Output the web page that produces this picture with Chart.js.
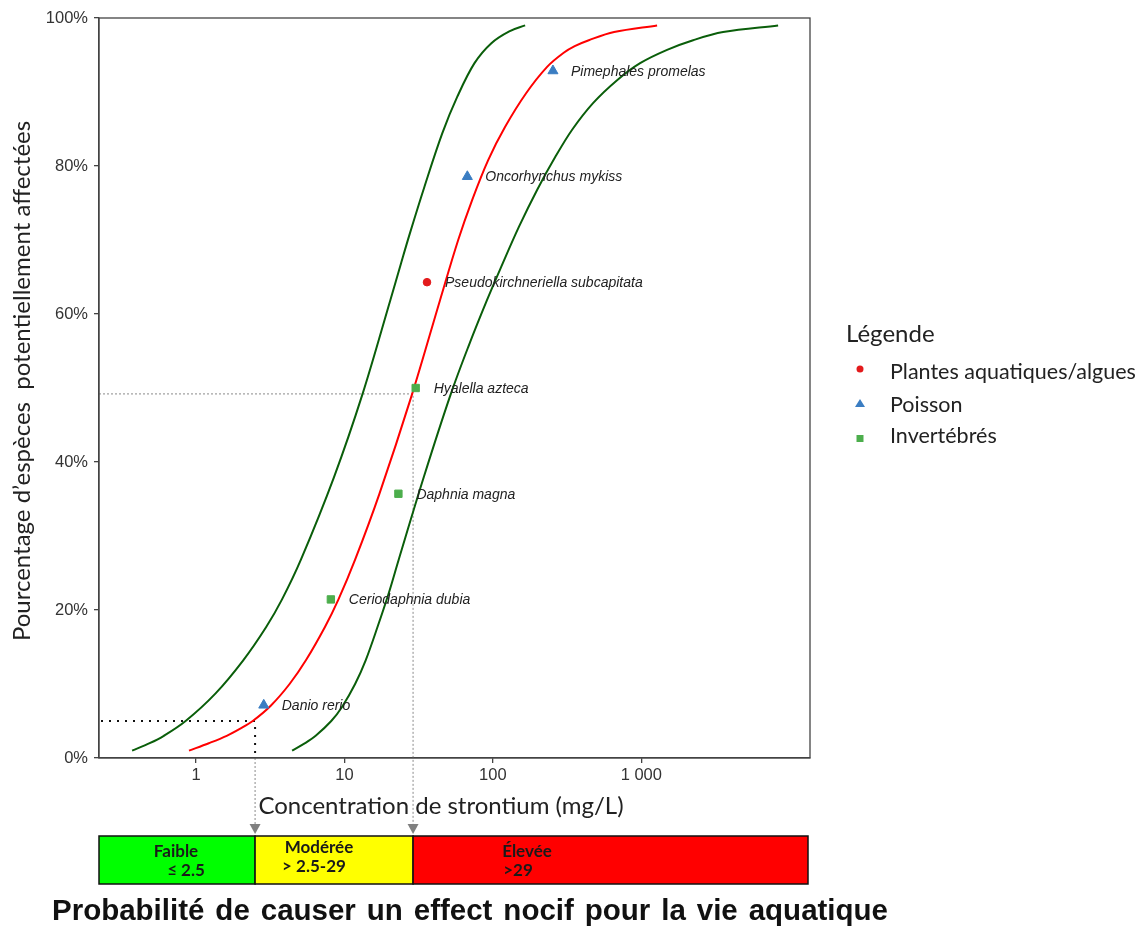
<!DOCTYPE html>
<html lang="fr">
<head>
<meta charset="utf-8">
<title>Strontium - distribution de sensibilité des espèces</title>
<script src="https://cdn.jsdelivr.net/npm/chart.js@4.4.0/dist/chart.umd.min.js"></script>
<style>
  html, body { margin: 0; padding: 0; background: #fff; }
  #wrap { position: relative; width: 1139px; height: 928px; }
</style>
</head>
<body>
<div id="wrap"><canvas id="ssdChart" width="1139" height="928"></canvas></div>
<script>
// Fitted curve (red) and confidence bounds (green)
const fitX   = [0.897, 1.22, 1.61, 2.00, 2.41, 3.20, 4.27, 5.50, 7.39, 9.10, 11.8, 17.2, 28.5, 44.1, 58.4, 72.5, 93.0, 121, 167, 232, 300, 356, 443, 656, 1278];
const fitY   = [1, 2, 3, 4, 5, 7.1, 10, 13.2, 17.7, 21.4, 26.8, 35.7, 49.1, 61.9, 70, 75.4, 80.8, 85.3, 89.8, 93.4, 95.3, 96.2, 97, 98.1, 99];
const lowerX = [0.371, 0.487, 0.607, 0.851, 1.35, 2.08, 2.97, 3.79, 5.09, 8.52, 13.2, 20.4, 24.1, 27.6, 34.6, 45.6, 57.7, 75.2, 97.7, 129, 165];
const lowerY = [1, 2, 3, 5, 8.7, 13.2, 17.7, 21.4, 26.8, 38, 49.1, 61.9, 66.9, 70.9, 77.2, 84.4, 89.4, 93.9, 96.6, 98.2, 99];
const upperX = [4.44, 5.43, 6.40, 8.15, 9.63, 11.8, 13.9, 16.7, 19.9, 23.2, 34.3, 51.9, 68.1, 91.4, 114, 150, 199, 263, 342, 473, 687, 982, 1492, 2234, 3558, 8355];
const upperY = [1, 2, 3, 5, 6.9, 10, 13.2, 17.7, 22.3, 26.8, 38, 49.1, 55.5, 61.9, 66.4, 71.8, 76.8, 81.2, 84.9, 88.5, 91.6, 93.9, 95.7, 97, 98.1, 99];

// Species endpoints
const plantNames = ['Pseudokirchneriella subcapitata'];
const plantX = [36.0];
const plantY = [64.3];
const fishNames = ['Danio rerio', 'Oncorhynchus mykiss', 'Pimephales promelas'];
const fishX = [2.86, 67.3, 254];
const fishY = [7.14, 78.57, 92.86];
const invNames = ['Ceriodaphnia dubia', 'Daphnia magna', 'Hyalella azteca'];
const invX = [8.1, 23.1, 30.2];
const invY = [21.43, 35.71, 50.0];

// Axes
const xTickValues = [1, 10, 100, 1000];
const xTickLabels = ['1', '10', '100', '1 000'];
const yTickValues = [0, 20, 40, 60, 80, 100];

// Hazard thresholds (HC5, HC50) and risk classes
const hcConc = [2.5, 29];
const hcLevel = [5, 49.2];
const riskLabels = [['Faible', '≤ 2.5'], ['Modérée', '> 2.5-29'], ['Élevée', '>29']];
const riskColors = ['#00ff00', '#ffff00', '#ff0000'];

const legendLabels = ['Plantes aquatiques/algues', 'Poisson', 'Invertébrés'];

const colors = {
    fit: '#ff0000',
    bound: '#0a5e0a',
    plant: '#e31a1c',
    fish: '#3a7dc2',
    inv: '#4cae4c',
    axis: '#444444',
    text: '#222222'
};

function toPoints(xs, ys) {
    return xs.map((x, i) => ({ x: x, y: ys[i] }));
}

function curveDataset(label, xs, ys, color) {
    return {
        type: 'line',
        label: label,
        data: toPoints(xs, ys),
        borderColor: color,
        borderWidth: 2,
        pointRadius: 0,
        fill: false,
        tension: 0.35
    };
}

function pointDataset(label, xs, ys, names, color, style, radius) {
    return {
        type: 'scatter',
        label: label,
        data: toPoints(xs, ys),
        names: names,
        backgroundColor: color,
        borderColor: color,
        pointStyle: style,
        pointRadius: radius,
        pointHoverRadius: radius
    };
}

// Extra drawing: reference lines, species labels, frame, legend, risk bar
const ssdDecor = {
    id: 'ssdDecor',
    beforeDatasetsDraw(chart) {
        const ctx = chart.ctx;
        const xs = chart.scales.x;
        const ys = chart.scales.y;
        const area = chart.chartArea;
        const arrowTop = 824;

        ctx.save();
        // HC5: black dotted
        const x5 = xs.getPixelForValue(hcConc[0]);
        const y5 = ys.getPixelForValue(hcLevel[0]);
        ctx.strokeStyle = '#111';
        ctx.lineWidth = 2;
        ctx.setLineDash([2, 6]);
        ctx.beginPath();
        ctx.moveTo(area.left + 2, y5);
        ctx.lineTo(x5, y5);
        ctx.lineTo(x5, area.bottom);
        ctx.stroke();

        // HC50: thin grey dashed
        const x50 = xs.getPixelForValue(hcConc[1]);
        const y50 = ys.getPixelForValue(hcLevel[1]);
        ctx.strokeStyle = '#8a8a8a';
        ctx.lineWidth = 1;
        ctx.setLineDash([2, 2]);
        ctx.beginPath();
        ctx.moveTo(area.left, y50);
        ctx.lineTo(x50, y50);
        ctx.lineTo(x50, arrowTop);
        ctx.moveTo(x5, area.bottom);
        ctx.lineTo(x5, arrowTop);
        ctx.stroke();
        ctx.setLineDash([]);

        // arrow heads
        ctx.fillStyle = '#808080';
        [x5, x50].forEach(px => {
            ctx.beginPath();
            ctx.moveTo(px - 5.5, arrowTop);
            ctx.lineTo(px + 5.5, arrowTop);
            ctx.lineTo(px, arrowTop + 10);
            ctx.closePath();
            ctx.fill();
        });
        ctx.restore();
    },
    afterDatasetsDraw(chart) {
        const ctx = chart.ctx;
        ctx.save();
        ctx.font = 'italic 14px "Liberation Sans", Arial, sans-serif';
        ctx.fillStyle = colors.text;
        ctx.textAlign = 'left';
        ctx.textBaseline = 'middle';
        chart.data.datasets.forEach((ds, i) => {
            if (!ds.names) return;
            const meta = chart.getDatasetMeta(i);
            meta.data.forEach((pt, j) => {
                ctx.fillText(ds.names[j], pt.x + 18, pt.y + 1);
            });
        });
        ctx.restore();
    },
    afterDraw(chart) {
        const ctx = chart.ctx;
        const area = chart.chartArea;
        const xs = chart.scales.x;
        ctx.save();

        // frame
        ctx.strokeStyle = colors.axis;
        ctx.lineWidth = 1.3;
        ctx.strokeRect(area.left, area.top, area.right - area.left, area.bottom - area.top);

        // axis titles
        ctx.fillStyle = colors.text;
        ctx.font = '24px Lato, "Open Sans", sans-serif';
        ctx.textAlign = 'center';
        ctx.textBaseline = 'middle';
        ctx.fillText('Concentration de strontium (mg/L)', 441, 806);
        ctx.save();
        ctx.translate(22, 381);
        ctx.rotate(-Math.PI / 2);
        ctx.fillText('Pourcentage d\u2019espèces  potentiellement affectées', 0, 0);
        ctx.restore();

        // legend
        ctx.textAlign = 'left';
        ctx.font = '24px Lato, "Open Sans", sans-serif';
        ctx.fillText('Légende', 846, 334);
        ctx.font = '21.5px Lato, "Open Sans", sans-serif';
        const legY = [372, 405, 436];
        const legColors = [colors.plant, colors.fish, colors.inv];
        legendLabels.forEach((lab, i) => {
            const cy = legY[i];
            ctx.fillStyle = legColors[i];
            ctx.beginPath();
            if (i === 0) {
                ctx.arc(860, cy - 3, 3.5, 0, Math.PI * 2);
            } else if (i === 1) {
                ctx.moveTo(860, cy - 6);
                ctx.lineTo(865, cy + 2);
                ctx.lineTo(855, cy + 2);
                ctx.closePath();
            } else {
                ctx.rect(856.5, cy - 1, 7, 7);
            }
            ctx.fill();
            ctx.fillStyle = colors.text;
            ctx.fillText(lab, 890, cy);
        });

        // risk bar
        const barTop = 836, barBottom = 884;
        const edges = [area.left, xs.getPixelForValue(hcConc[0]), xs.getPixelForValue(hcConc[1]), area.right - 2];
        const textX = [[176, 186], [319, 314], [527, 518]];
        for (let i = 0; i < 3; i++) {
            ctx.fillStyle = riskColors[i];
            ctx.fillRect(edges[i], barTop, edges[i + 1] - edges[i], barBottom - barTop);
            ctx.strokeStyle = '#111';
            ctx.lineWidth = 1.5;
            ctx.strokeRect(edges[i], barTop, edges[i + 1] - edges[i], barBottom - barTop);
            ctx.fillStyle = '#1a1a1a';
            ctx.font = 'bold 17px Lato, "Open Sans", sans-serif';
            ctx.textAlign = 'center';
            ctx.fillText(riskLabels[i][0], textX[i][0], i === 1 ? 848 : 852);
            ctx.fillText(riskLabels[i][1], textX[i][1], i === 1 ? 867 : 871);
        }

        // caption, stretched slightly with word spacing like the original
        const caption = 'Probabilité de causer un effect nocif pour la vie aquatique';
        ctx.fillStyle = '#111';
        ctx.font = 'bold 29.5px "Liberation Sans", Arial, sans-serif';
        const capW = ctx.measureText(caption).width;
        const gaps = caption.split(' ').length - 1;
        if ('wordSpacing' in ctx) {
            ctx.wordSpacing = Math.max(0, (836 - capW) / gaps) + 'px';
        }
        ctx.textAlign = 'center';
        ctx.fillText(caption, 470, 912);
        ctx.restore();
    }
};

const ctx = document.getElementById('ssdChart');
new Chart(ctx, {
    type: 'scatter',
    data: {
        datasets: [
            pointDataset('Plantes aquatiques/algues', plantX, plantY, plantNames, colors.plant, 'circle', 3.8),
            pointDataset('Poisson', fishX, fishY, fishNames, colors.fish, 'triangle', 5.8),
            pointDataset('Invertébrés', invX, invY, invNames, colors.inv, 'rect', 5.2),
            curveDataset('Borne inférieure', lowerX, lowerY, colors.bound),
            curveDataset('Ajustement', fitX, fitY, colors.fit),
            curveDataset('Borne supérieure', upperX, upperY, colors.bound)
        ]
    },
    options: {
        responsive: false,
        animation: false,
        layout: { padding: { left: 0, top: 18, right: 329, bottom: 0 } },
        plugins: {
            legend: { display: false },
            tooltip: { enabled: false }
        },
        scales: {
            x: {
                type: 'logarithmic',
                min: 0.222,
                max: 13700,
                afterBuildTicks: scale => {
                    scale.ticks = xTickValues.map(v => ({ value: v }));
                },
                afterFit: scale => { scale.height = 170; },
                ticks: {
                    autoSkip: false,
                    maxRotation: 0,
                    padding: 3,
                    color: '#333',
                    font: { family: '"Liberation Sans", Arial, sans-serif', size: 16.5 },
                    callback: v => xTickLabels[xTickValues.indexOf(v)]
                },
                grid: { drawOnChartArea: false, tickLength: 5, color: colors.axis, lineWidth: 1.3 },
                border: { color: colors.axis, width: 1.3 }
            },
            y: {
                min: 0,
                max: 100,
                afterBuildTicks: scale => {
                    scale.ticks = yTickValues.map(v => ({ value: v }));
                },
                afterFit: scale => { scale.width = 99; },
                ticks: {
                    padding: 6,
                    color: '#333',
                    font: { family: '"Liberation Sans", Arial, sans-serif', size: 16.5 },
                    callback: v => v + '%'
                },
                grid: { drawOnChartArea: false, tickLength: 5, color: colors.axis, lineWidth: 1.3 },
                border: { color: colors.axis, width: 1.3 }
            }
        }
    },
    plugins: [ssdDecor]
});
</script>
</body>
</html>
